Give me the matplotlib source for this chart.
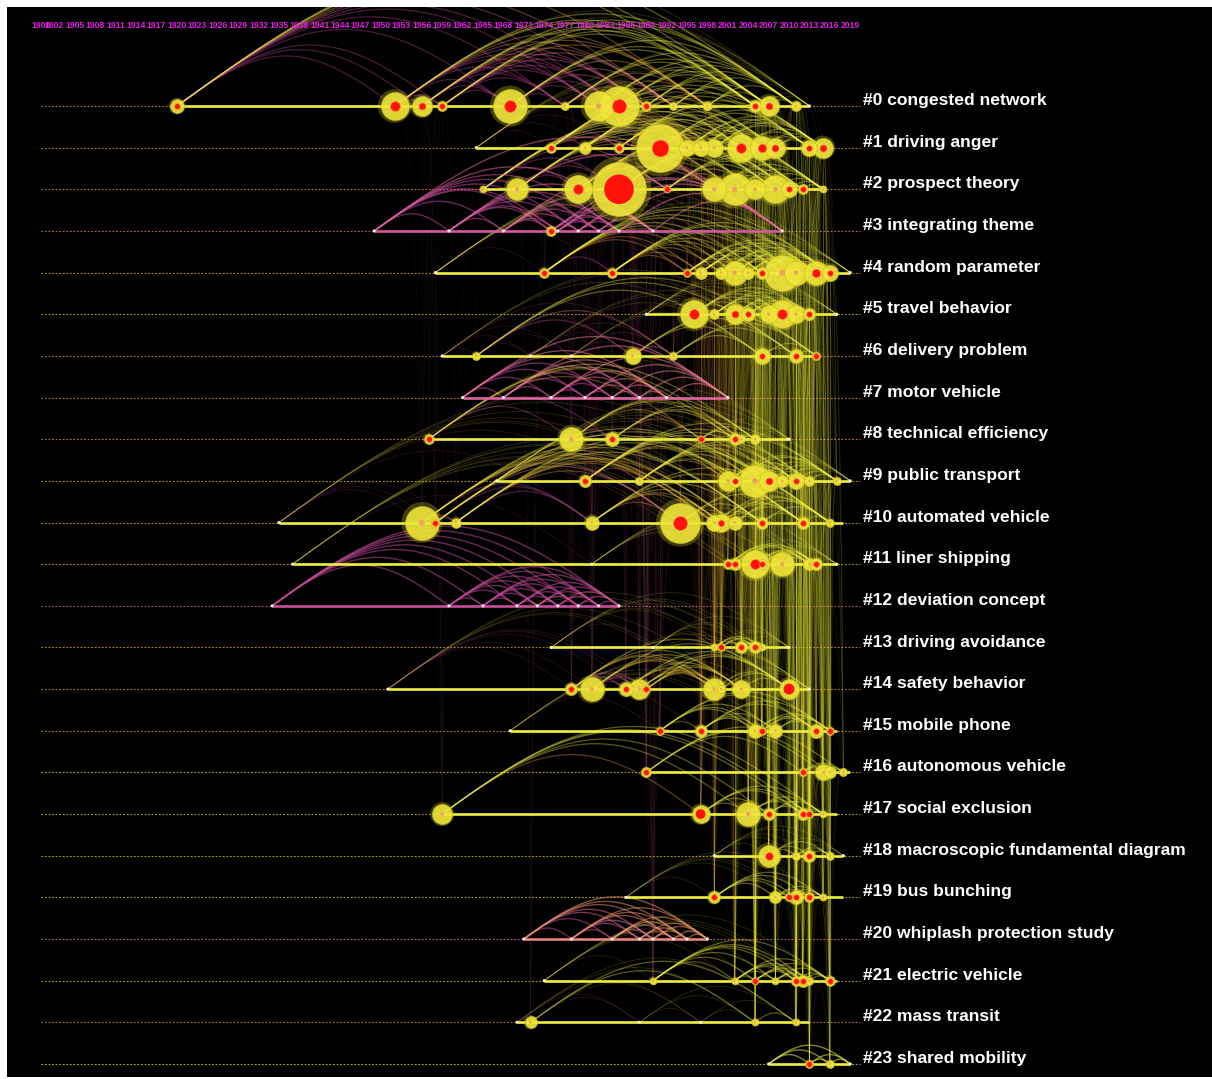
import numpy as np
import matplotlib
matplotlib.use("Agg")
import matplotlib.pyplot as plt
from matplotlib.collections import LineCollection
from matplotlib.colors import LinearSegmentedColormap

# ---------------- data ----------------
cluster_labels = ["#0 congested network", "#1 driving anger", "#2 prospect theory",
                  "#3 integrating theme", "#4 random parameter", "#5 travel behavior",
                  "#6 delivery problem", "#7 motor vehicle", "#8 technical efficiency",
                  "#9 public transport", "#10 automated vehicle", "#11 liner shipping",
                  "#12 deviation concept", "#13 driving avoidance", "#14 safety behavior",
                  "#15 mobile phone", "#16 autonomous vehicle", "#17 social exclusion",
                  "#18 macroscopic fundamental diagram", "#19 bus bunching",
                  "#20 whiplash protection study", "#21 electric vehicle",
                  "#22 mass transit", "#23 shared mobility"]

line_start = [1920, 1964, 1965, 1949, 1958, 1989, 1959, 1962, 1957, 1967, 1935, 1937,
              1934, 1975, 1951, 1969, 1989, 1959, 1999, 1986, 1971, 1974, 1970, 2007]
line_end = [2013, 2015, 2015, 2009, 2019, 2017, 2014, 2001, 2010, 2019, 2018, 2017,
            1985, 2010, 2013, 2017, 2019, 2017, 2018, 2018, 1998, 2017, 2013, 2019]
last_active = [2019, 2019, 2019, 2003, 2019, 2019, 2019, 2005, 2019, 2019, 2019, 2019,
               2001, 2019, 2019, 2019, 2019, 2019, 2019, 2019, 2009, 2019, 2019, 2019]
mean_year = [2010, 2012, 2010, 2007, 2015, 2016, 2010, 2009, 2010, 2015, 2015, 2015,
             2004, 2013, 2011, 2011, 2016, 2016, 2016, 2016, 2007, 2016, 2008, 2017]

node_years = [
    [1920, 1952, 1956, 1959, 1969, 1977, 1982, 1985, 1989, 1993, 1998, 2005, 2007, 2011, 2013],
    [1964, 1975, 1980, 1985, 1991, 1995, 1997, 1999, 2003, 2006, 2008, 2013, 2015],
    [1965, 1970, 1979, 1985, 1992, 1999, 2002, 2005, 2008, 2010, 2012, 2015],
    [1949, 1960, 1968, 1975, 1976, 1979, 1982, 1985, 1990, 2009],
    [1958, 1974, 1984, 1995, 1997, 2000, 2002, 2004, 2006, 2009, 2011, 2014, 2016, 2019],
    [1989, 1996, 1999, 2002, 2004, 2007, 2009, 2011, 2013, 2017],
    [1959, 1964, 1972, 1978, 1987, 1993, 2006, 2011, 2014],
    [1962, 1968, 1975, 1980, 1984, 1988, 1992, 2001],
    [1957, 1978, 1984, 1997, 2002, 2003, 2005, 2010],
    [1967, 1980, 1988, 2001, 2002, 2005, 2007, 2009, 2011, 2013, 2017, 2019],
    [1935, 1956, 1958, 1961, 1981, 1994, 1999, 2000, 2002, 2006, 2012, 2016],
    [1937, 1981, 2001, 2002, 2005, 2006, 2009, 2013, 2014, 2017],
    [1934, 1960, 1965, 1970, 1973, 1976, 1979, 1982, 1985],
    [1975, 1990, 1999, 2000, 2003, 2005, 2006, 2010],
    [1951, 1978, 1981, 1986, 1988, 1989, 1999, 2000, 2003, 2010, 2013],
    [1969, 1991, 1997, 2005, 2006, 2008, 2014, 2016],
    [1989, 2012, 2015, 2016, 2018],
    [1959, 1997, 2004, 2007, 2012, 2013, 2015],
    [1999, 2007, 2011, 2013, 2016, 2018],
    [1986, 1999, 2008, 2010, 2011, 2013, 2015],
    [1971, 1978, 1984, 1988, 1990, 1993, 1995, 1998],
    [1974, 1990, 2002, 2005, 2008, 2011, 2012, 2013, 2016],
    [1970, 1972, 1988, 1997, 2005, 2011],
    [2007, 2013, 2016, 2019],
]
node_counts = [
    [12, 49, 25, 6, 72, 4, 56, 100, 6, 4, 5, 9, 25, 6, 1],
    [1, 6, 9, 6, 144, 16, 16, 20, 49, 36, 25, 16, 25],
    [3, 30, 49, 182, 3, 36, 64, 25, 49, 16, 6, 3],
    [1, 1, 1, 6, 1, 1, 1, 1, 1, 1],
    [1, 6, 6, 4, 9, 9, 36, 9, 9, 81, 36, 36, 16, 1],
    [1, 49, 6, 25, 12, 20, 49, 20, 9, 1],
    [1, 4, 1, 1, 16, 4, 16, 12, 4],
    [1, 1, 1, 1, 1, 1, 1, 1],
    [6, 36, 12, 3, 9, 4, 6, 1],
    [1, 9, 4, 25, 9, 64, 25, 9, 16, 6, 4, 1],
    [1, 72, 4, 6, 12, 100, 16, 20, 12, 9, 9, 4],
    [1, 1, 6, 9, 49, 6, 36, 9, 9, 1],
    [1, 1, 1, 1, 1, 1, 1, 1, 1],
    [1, 1, 3, 4, 9, 9, 3, 1],
    [1, 9, 36, 12, 25, 4, 30, 4, 20, 25, 1],
    [1, 4, 9, 12, 4, 12, 12, 4],
    [6, 4, 16, 9, 4],
    [25, 20, 36, 9, 9, 4, 3],
    [1, 30, 4, 9, 4, 1],
    [1, 9, 9, 4, 12, 6, 3],
    [1, 1, 1, 1, 1, 1, 1, 1],
    [1, 3, 3, 3, 3, 6, 9, 4, 6],
    [1, 9, 1, 1, 3, 3],
    [1, 4, 4, 1],
]
# burst strength: 0 = none, 1 = burst, 2 = strong burst
node_burst = [
    [1, 1, 1, 1, 1, 0, 0, 1, 1, 0, 0, 1, 1, 0, 0],
    [0, 1, 0, 1, 1, 0, 0, 0, 1, 1, 1, 1, 1],
    [0, 0, 1, 2, 1, 0, 0, 0, 0, 1, 1, 0],
    [0, 0, 0, 1, 0, 0, 0, 0, 0, 0],
    [0, 1, 1, 1, 0, 0, 0, 0, 1, 0, 0, 1, 1, 0],
    [0, 1, 0, 1, 1, 0, 1, 0, 1, 0],
    [0, 0, 0, 0, 0, 0, 1, 1, 1],
    [0, 0, 0, 0, 0, 0, 0, 0],
    [1, 0, 1, 1, 1, 0, 0, 0],
    [0, 1, 0, 0, 1, 0, 1, 0, 1, 0, 0, 0],
    [0, 0, 1, 0, 0, 1, 0, 1, 0, 1, 1, 0],
    [0, 0, 1, 1, 1, 1, 0, 0, 1, 0],
    [0, 0, 0, 0, 0, 0, 0, 0, 0],
    [0, 0, 0, 1, 1, 1, 0, 0],
    [0, 1, 0, 1, 0, 1, 0, 0, 0, 2, 0],
    [0, 1, 1, 0, 1, 0, 1, 1],
    [1, 1, 0, 0, 0],
    [0, 2, 0, 1, 1, 1, 0],
    [0, 1, 0, 1, 0, 0],
    [0, 1, 0, 1, 1, 1, 0],
    [0, 0, 0, 0, 0, 0, 0, 0],
    [0, 0, 0, 1, 0, 1, 1, 0, 1],
    [0, 0, 0, 0, 0, 0],
    [0, 1, 0, 0],
]
axis_years = [1900, 1902] + list(range(1905, 2017, 3)) + [2019]

# ---------------- layout ----------------
W, H = 1212, 1079
PX_PER_YEAR = 6.8
X0_YEAR = 1893.97
ROW0_PX, ROW_PX = 106, 41.65

fig = plt.figure(figsize=(W / 100, H / 100), dpi=100, facecolor="white")
ax = fig.add_axes([7 / W, (H - 1077) / H, (W - 7) / W, (1077 - 7) / H])
ax.set_facecolor("black")
ax.set_xlim(X0_YEAR + 7 / PX_PER_YEAR, X0_YEAR + W / PX_PER_YEAR)
ax.set_ylim((1077 - ROW0_PX) / ROW_PX, (7 - ROW0_PX) / ROW_PX)
ax.axis("off")
ax.add_patch(plt.Rectangle((0, 0), 1, 1, transform=ax.transAxes, color="black", zorder=0))

cmap = LinearSegmentedColormap.from_list("cs", [
    (0.0, "#c04898"), (0.25, "#e068a0"), (0.45, "#e88878"), (0.62, "#e8a044"),
    (0.8, "#e0c030"), (1.0, "#f0f040")])


def ycol(y, alpha=1.0):
    t = (min(max(y, 1998), 2019) - 1998) / 21.0
    c = list(cmap(t))
    c[3] = alpha
    return tuple(c)


yr_to_rows = PX_PER_YEAR / ROW_PX  # one year expressed in row units

# ------------- within-cluster arcs -------------
t = np.linspace(0, 1, 40)
arc_segs, arc_cols, arc_lw = [], [], []
for c in range(len(cluster_labels)):
    ys, cs = node_years[c], node_counts[c]
    faint_cluster = max(cs) <= 6
    for i in range(len(ys)):
        for j in range(i + 1, len(ys)):
            a, b = ys[i], ys[j]
            if b <= a:
                continue
            h = 0.23 * (b - a) * yr_to_rows
            xx = a + (b - a) * t
            yy = c - h * np.sin(np.pi * t)
            arc_segs.append(np.column_stack([xx, yy]))
            cy = min(last_active[c], b + 14)
            if faint_cluster:
                alpha, lw = 0.55, 1.0
            elif cs[i] <= 1 or cs[j] <= 1:
                alpha, lw = 0.18, 0.6
            else:
                alpha, lw = 0.38, 0.9
            arc_cols.append(ycol(cy, alpha))
            arc_lw.append(lw)
ax.add_collection(LineCollection(arc_segs, colors=arc_cols, linewidths=arc_lw, zorder=2))

# ------------- cross-cluster links -------------
link_segs, link_cols = [], []
for ci in range(len(cluster_labels)):
    for cj in range(ci + 1, len(cluster_labels)):
        for ya, na in zip(node_years[ci], node_counts[ci]):
            if na < 3:
                continue
            for yb, nb in zip(node_years[cj], node_counts[cj]):
                if nb < 3 or abs(ya - yb) > 4:
                    continue
                p0 = np.array([yb, cj])
                p2 = np.array([ya, ci])
                p1 = np.array([yb + 0.25 * (ya - yb), ci - 0.5 - 0.04 * (cj - ci)])
                tt = t[:, None]
                pts = (1 - tt) ** 2 * p0 + 2 * (1 - tt) * tt * p1 + tt ** 2 * p2
                link_segs.append(pts)
                cy = min(last_active[ci], last_active[cj], max(ya, yb) + 12)
                link_cols.append(ycol(cy, 0.085))
ax.add_collection(LineCollection(link_segs, colors=link_cols, linewidths=0.5, zorder=1.5))

# ------------- timelines -------------
for c in range(len(cluster_labels)):
    ax.plot([1900, 2020.5], [c, c], color=ycol(mean_year[c], 0.75), lw=0.8,
            dashes=(1.6, 1.6), zorder=1)
    lc = ycol(last_active[c] - 2) if last_active[c] < 2019 else ycol(2019)
    ax.plot([line_start[c], line_end[c]], [c, c], color=lc, lw=1.9,
            solid_capstyle="butt", zorder=3)
    ax.text(X0_YEAR + 863 / PX_PER_YEAR, c - 0.13, cluster_labels[c], color="white",
            fontsize=12.6, fontweight="bold", family=["Liberation Sans", "DejaVu Sans"],
            ha="left", va="center", zorder=6)

# ------------- nodes -------------
allnodes = []
for c in range(len(cluster_labels)):
    for y, n, b in zip(node_years[c], node_counts[c], node_burst[c]):
        allnodes.append((n, y, c, b))
allnodes.sort(key=lambda r: -r[0])
for n, y, c, b in allnodes:
    s = 8.3 * n
    if n <= 1:
        ax.scatter([y], [c], s=5, color="#fff4e8", edgecolors="none", zorder=4)
        continue
    ax.scatter([y], [c], s=s * 1.45, color="#e0d828", alpha=0.28, edgecolors="none", zorder=4)
    ax.scatter([y], [c], s=s, color="#f0e63a", alpha=0.9, edgecolors="#c8c020",
               linewidths=0.5, zorder=4)
    if b == 2:
        ax.scatter([y], [c], s=max(0.3 * s, 16), color="#ff1208", edgecolors="none", zorder=5)
    elif b == 1:
        ax.scatter([y], [c], s=max(0.12 * s, 16), color="#ff1208", edgecolors="#ff7050",
                   linewidths=0.5, zorder=5)
    else:
        ax.scatter([y], [c], s=max(0.03 * s, 3), color="#f0a060", edgecolors="none", zorder=5)

# ------------- year axis -------------
for yr in axis_years:
    ax.text(yr, (25 - ROW0_PX) / ROW_PX, str(yr), color="#e020e0", fontsize=6.2,
            fontweight="bold", family=["Liberation Sans", "DejaVu Sans"],
            ha="center", va="center", zorder=6)

fig.savefig("out.png", dpi=100, facecolor="white")
